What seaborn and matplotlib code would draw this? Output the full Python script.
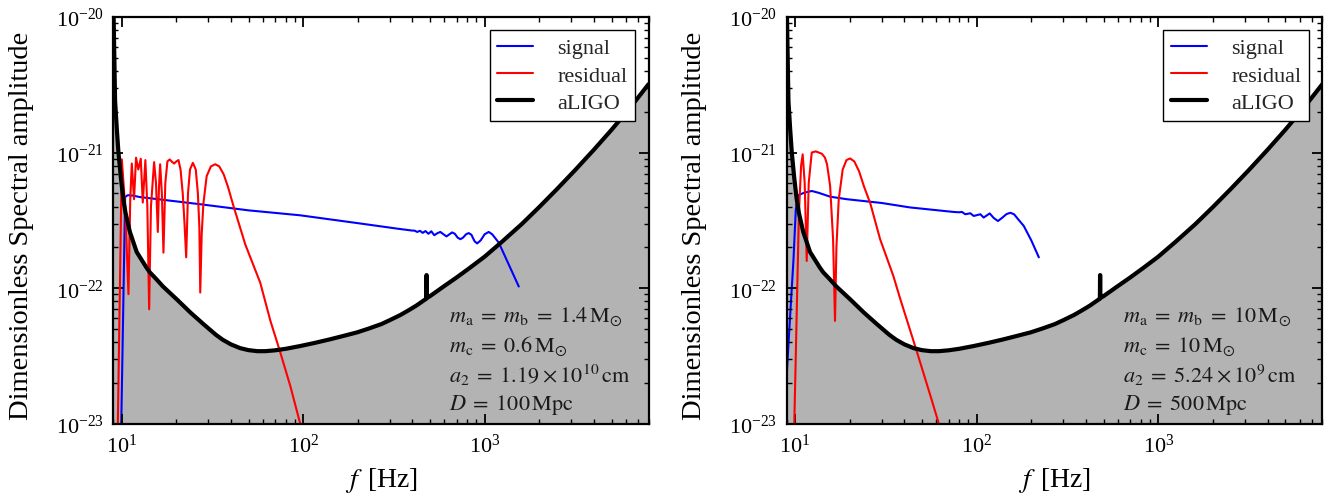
import matplotlib
matplotlib.use("Agg")
import matplotlib.pyplot as plt
import seaborn as sns
from matplotlib.ticker import LogLocator, NullFormatter

# ---------------- data ----------------
# aLIGO sensitivity curve (shared by both panels)
aligo_f = [9.0, 9.2, 9.4, 9.6, 9.9, 10.2, 10.5, 11.1, 12.1, 13.7, 14.3, 15.5, 16.9, 20.1,
           24, 28.2, 33, 36, 40, 45, 50, 56, 62, 70, 80, 96, 116, 140, 166, 198, 231,
           270, 304, 343, 380, 420, 445, 472, 477, 478, 479, 480, 481, 500, 600, 700,
           820, 1000, 1250, 1600, 2000, 2500, 3150, 4000, 5000, 6300, 8000]
aligo_v = [1.3e-20, 2.4e-21, 1.5e-21, 1.0e-21, 6.5e-22, 4.6e-22, 3.6e-22, 2.6e-22, 1.85e-22,
           1.42e-22, 1.31e-22, 1.17e-22, 1.03e-22, 8.3e-23, 6.6e-23, 5.45e-23, 4.55e-23,
           4.18e-23, 3.86e-23, 3.62e-23, 3.5e-23, 3.44e-23, 3.44e-23, 3.49e-23, 3.58e-23,
           3.75e-23, 3.96e-23, 4.2e-23, 4.45e-23, 4.73e-23, 5.06e-23, 5.45e-23, 5.87e-23,
           6.35e-23, 6.87e-23, 7.45e-23, 7.86e-23, 8.3e-23, 8.4e-23, 1.25e-22, 1.25e-22,
           8.45e-23, 8.5e-23, 8.75e-23, 1.04e-22, 1.2e-22, 1.4e-22, 1.71e-22, 2.21e-22,
           2.97e-22, 3.97e-22, 5.37e-22, 7.42e-22, 1.05e-21, 1.47e-21, 2.12e-21, 3.19e-21]

# Left panel: m_a = m_b = 1.4 Msun, D = 100 Mpc
sig1_f = [9.92, 10.45, 10.8, 11.5, 12.6, 27.1, 50, 96, 203, 330, 400,
          410, 425, 440, 456, 472, 490, 508, 528, 550, 570, 593, 616, 640, 662,
          685, 710, 735, 760, 790, 817, 845, 880, 909, 950, 1000, 1053, 1100,
          1196, 1542]
sig1_v = [8e-24, 4.7e-22, 4.85e-22, 4.82e-22, 4.7e-22, 4.16e-22, 3.75e-22, 3.45e-22,
          3.01e-22, 2.75e-22, 2.66e-22,
          2.66e-22, 2.60e-22, 2.65e-22, 2.56e-22, 2.64e-22, 2.52e-22, 2.63e-22, 2.46e-22,
          2.55e-22, 2.60e-22, 2.50e-22, 2.41e-22, 2.50e-22, 2.58e-22,
          2.52e-22, 2.36e-22, 2.30e-22, 2.36e-22, 2.50e-22, 2.55e-22, 2.48e-22, 2.22e-22,
          2.14e-22, 2.25e-22, 2.50e-22, 2.60e-22, 2.50e-22, 2.17e-22, 1.03e-22]

res1_f = [9.5, 10.02, 10.45, 10.9, 11.15, 11.37, 11.7, 12.0, 12.35, 12.74, 13.07,
          13.51, 13.85, 14.17, 14.5, 15.09, 15.45, 15.82, 16.05, 16.29, 16.65, 16.99,
          17.4, 17.87, 18.4, 19.0, 19.47, 20.0, 20.56, 21.1, 21.7, 22.2, 22.67,
          23.2, 23.8, 24.68, 25.6, 26.3, 26.8, 27.1, 27.6, 28.2, 29.4, 31, 32.8,
          34.5, 36.5, 38.5, 41.3, 48, 58, 66, 74.8, 85, 96.4, 102]
res1_v = [8e-24, 8.9e-22, 4.0e-22, 9.05e-23, 4.5e-22, 8.3e-22, 4.53e-22, 9.17e-22,
          7.5e-22, 9.0e-22, 4.28e-22, 8.8e-22, 4.0e-22, 7.0e-23, 4.0e-22, 8.5e-22,
          6.0e-22, 2.6e-22, 5.5e-22, 8.2e-22, 5.0e-22, 1.83e-22, 6.0e-22, 8.6e-22,
          8.9e-22, 8.5e-22, 8.3e-22, 8.6e-22, 8.8e-22, 7.5e-22, 5.0e-22, 3.0e-22,
          1.69e-22, 5.0e-22, 7.5e-22, 8.4e-22, 7.5e-22, 5.0e-22, 2.8e-22, 9.3e-23,
          2.5e-22, 4.2e-22, 6.7e-22, 7.9e-22, 8.2e-22, 7.9e-22, 6.9e-22, 5.6e-22,
          4.04e-22, 2.1e-22, 1.1e-22, 5.75e-23, 3.37e-23, 1.9e-23, 1.0e-23, 7.5e-24]

# Right panel: m_a = m_b = 10 Msun, D = 500 Mpc
sig2_f = [9.0, 9.5, 9.8, 10.1, 10.4, 11.2, 12.36, 13.5, 15.6, 19.3, 30, 43, 74.7,
          80, 83, 86.6, 92.3, 96.3, 104.8, 109.3, 118, 124, 131, 138, 146, 153.5,
          161, 170, 181.7, 200, 220]
sig2_v = [2.3e-23, 8e-23, 1.6e-22, 3.8e-22, 4.85e-22, 5.05e-22, 5.21e-22, 5.05e-22,
          4.73e-22, 4.53e-22, 4.25e-22, 3.94e-22, 3.65e-22,
          3.63e-22, 3.65e-22, 3.51e-22, 3.57e-22, 3.41e-22, 3.51e-22, 3.32e-22, 3.56e-22,
          3.30e-22, 3.13e-22, 3.30e-22, 3.52e-22, 3.60e-22, 3.50e-22, 3.20e-22, 2.88e-22,
          2.25e-22, 1.69e-22]

res2_f = [9.87, 10.5, 10.8, 11.02, 11.3, 11.6, 11.9, 12.36, 13.0, 14.04, 14.6, 15.0,
          15.6, 16.2, 16.6, 16.9, 17.4, 18.3, 19.2, 20.1, 21.2, 22.5, 24, 26, 29.4,
          34.8, 37.8, 46.9, 55, 62, 66]
res2_v = [8e-24, 3.5e-22, 8.0e-22, 9.7e-22, 6.0e-22, 1.59e-22, 6.0e-22, 1.0e-21,
          1.02e-21, 9.8e-22, 9.2e-22, 8.2e-22, 5.7e-22, 2.3e-22, 5.75e-23, 2.0e-22,
          4.5e-22, 7.5e-22, 8.8e-22, 9.05e-22, 8.6e-22, 7.3e-22, 5.6e-22, 4.2e-22,
          2.3e-22, 1.23e-22, 8.5e-23, 3.4e-23, 1.7e-23, 1.0e-23, 7.5e-24]

x_ticks = [10, 100, 1000]
y_ticks = [1e-23, 1e-22, 1e-21, 1e-20]
x_limits = (9, 8000)
y_limits = (1e-23, 1e-20)

labels1 = [r"$m_{\rm a}\;=\;m_{\rm b}\;=\;1.4\,{\rm M}_{\odot}$",
           r"$m_{\rm c}\;=\;0.6\,{\rm M}_{\odot}$",
           r"$a_2\;=\;1.19\:\times\:10^{10}\,{\rm cm}$",
           r"$D\;=\;100\,{\rm Mpc}$"]
labels2 = [r"$m_{\rm a}\;=\;m_{\rm b}\;=\;10\,{\rm M}_{\odot}$",
           r"$m_{\rm c}\;=\;10\,{\rm M}_{\odot}$",
           r"$a_2\;=\;5.24\:\times\:10^{9}\,{\rm cm}$",
           r"$D\;=\;500\,{\rm Mpc}$"]

# ---------------- style ----------------
sns.set_theme(style="ticks")
plt.rcParams["font.family"] = ["Liberation Serif", "DejaVu Serif"]
plt.rcParams["mathtext.fontset"] = "stix"
plt.rcParams["axes.linewidth"] = 1.5

fig = plt.figure(figsize=(13.4, 5.02), dpi=100)
ax1 = fig.add_axes([0.0846, 0.1534, 0.3994, 0.8111])
ax2 = fig.add_axes([0.5871, 0.1534, 0.3997, 0.8111])


def panel(ax, sf, sv, rf, rv, texts):
    ax.set_xscale("log")
    ax.set_yscale("log")
    ax.set_axisbelow(False)
    ax.fill_between(aligo_f, aligo_v, 1e-25, color="#b3b3b3", lw=0, zorder=1)
    sns.lineplot(x=sf, y=sv, ax=ax, color="blue", lw=1.5, label="signal",
                 sort=False, estimator=None, zorder=2)
    sns.lineplot(x=rf, y=rv, ax=ax, color="red", lw=1.5, label="residual",
                 sort=False, estimator=None, zorder=3)
    sns.lineplot(x=aligo_f, y=aligo_v, ax=ax, color="black", lw=3.0, label="aLIGO",
                 sort=False, estimator=None, zorder=4)
    ax.set_xlim(*x_limits)
    ax.set_ylim(*y_limits)
    ax.set_xticks(x_ticks)
    ax.set_yticks(y_ticks)
    ax.xaxis.set_minor_locator(LogLocator(base=10, subs=range(2, 10), numticks=20))
    ax.yaxis.set_minor_locator(LogLocator(base=10, subs=range(2, 10), numticks=20))
    ax.xaxis.set_minor_formatter(NullFormatter())
    ax.yaxis.set_minor_formatter(NullFormatter())
    ax.tick_params(which="both", direction="in", top=True, right=True,
                   labelsize=16, color="black", labelcolor="black")
    ax.tick_params(which="major", length=7, width=1.3, pad=7)
    ax.tick_params(which="minor", length=3.5, width=1.0)
    for s in ax.spines.values():
        s.set_color("black")
        s.set_linewidth(1.6)
        s.set_zorder(6)
    ax.set_xlabel(r"$f\,$ [Hz]", fontsize=20, labelpad=6, color="black")
    ax.set_ylabel("Dimensionless Spectral amplitude", fontsize=20.5, color="black")
    ax.yaxis.set_label_coords(-0.148, 0.49)
    leg = ax.legend(loc="upper right", fontsize=16, frameon=True, fancybox=False,
                    framealpha=1, edgecolor="black", handlelength=1.6,
                    handletextpad=1.1, borderpad=0.35, labelspacing=0.3,
                    borderaxespad=0.6)
    leg.get_frame().set_linewidth(1.0)
    leg.set_zorder(7)
    for i, t in enumerate(texts):
        ax.text(0.628, 0.265 - i * 0.072, t, transform=ax.transAxes, fontsize=16,
                color="#1a1a1a", va="center", ha="left", zorder=5)


panel(ax1, sig1_f, sig1_v, res1_f, res1_v, labels1)
panel(ax2, sig2_f, sig2_v, res2_f, res2_v, labels2)

fig.savefig("out.png", dpi=100)
